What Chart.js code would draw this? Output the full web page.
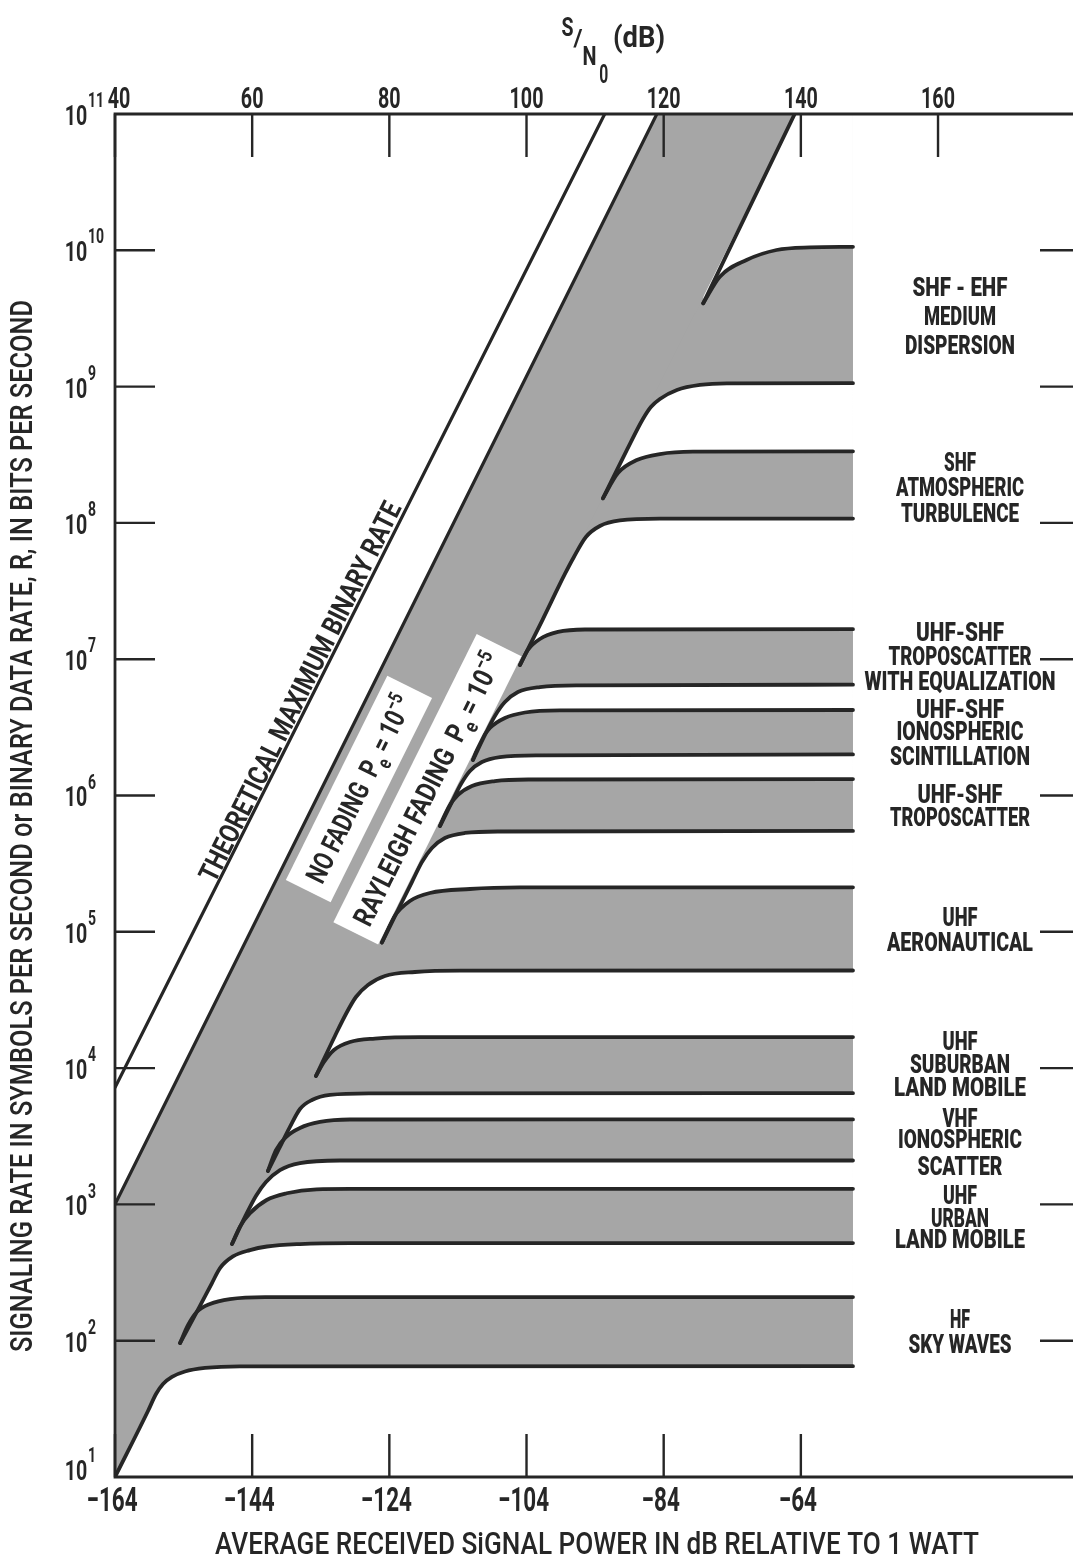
<!DOCTYPE html>
<html>
<head>
<meta charset="utf-8">
<title>Signaling rate versus received signal power</title>
<style>
  html, body { margin: 0; padding: 0; background: #fff; overflow: hidden; }
  canvas { display: block; }
</style>
<script src="https://cdn.jsdelivr.net/npm/chart.js@4.4.1/dist/chart.umd.min.js"></script>
</head>
<body>
<canvas id="chart" width="1090" height="1557"></canvas>
<script>
// ---- axes -------------------------------------------------------------
const powerTicks = [-164, -144, -124, -104, -84, -64];      // dB relative to 1 W
const snrTicks = [40, 60, 80, 100, 120, 140, 160];          // S/N0 in dB
const rateExponents = [1, 2, 3, 4, 5, 6, 7, 8, 9, 10, 11];  // decades of R
const snrOffset = 204;                                       // S/N0 = P + 204 dB

// ---- reference lines: [power dB, rate bit/s] ---------------------------
const theoreticalMax = [[-164, 7.2e3], [-92.6, 1e11]];
const noFading = [[-164, 1.0e3], [-85.0, 1e11]];
const rayleighFading = [[-164, 10], [-154.52, 96], [-64.9, 1e11]];
const rayleighUpper = [[-78.24, 4.08e9], [-64.9, 1e11]];

// ---- channel bands: lower and upper edges -----------------------------
const hfLower = [[-164, 10], [-159.19, 30.5], [-158.02, 40.6], [-157.0, 48.1], [-155.69, 54.2], [-153.8, 59.4], [-150.88, 63.1], [-145.78, 64.9], [-56.4, 65]];
const hfUpper = [[-154.52, 96], [-153.36, 130], [-152.05, 163], [-150.15, 186], [-147.24, 202], [-142.13, 209], [-56.4, 209]];

const urbanLower = [[-154.52, 96], [-151.61, 180], [-149.86, 265], [-148.69, 341], [-146.8, 415], [-144.32, 462], [-141.84, 491], [-137.03, 512], [-129.7, 520], [-56.4, 520]];
const urbanUpper = [[-146.94, 512], [-145.78, 687], [-144.32, 861], [-141.89, 1077], [-138.97, 1207], [-134.6, 1291], [-129.74, 1300], [-56.4, 1300]];

const vhfLower = [[-146.94, 512], [-145.05, 809], [-143.45, 1153], [-141.99, 1460], [-139.95, 1787], [-137.03, 2012], [-131.2, 2100], [-56.4, 2100]];
const vhfUpper = [[-141.7, 1758], [-140.53, 2506], [-139.07, 3121], [-137.03, 3637], [-134.12, 4027], [-129.74, 4198], [-56.4, 4200]];

const suburbanLower = [[-141.7, 1758], [-140.1, 2550], [-138.49, 3698], [-137.03, 5012], [-135.28, 5834], [-132.66, 6350], [-126.83, 6515], [-56.4, 6550]];
const suburbanUpper = [[-134.7, 8750], [-133.53, 11090], [-132.08, 13580], [-129.74, 15550], [-126.1, 16480], [-119.54, 16900], [-56.4, 16900]];

const aeroLower = [[-134.7, 8750], [-131.93, 17210], [-130.33, 24950], [-128.87, 33240], [-127.12, 40740], [-124.64, 47420], [-120.27, 50720], [-113.71, 51980], [-56.4, 52000]];
const aeroUpper = [[-125.08, 83540], [-123.33, 128500], [-121.0, 168300], [-118.08, 192600], [-112.25, 206100], [-104.96, 211500], [-56.4, 212000]];

const tropoLower = [[-125.08, 83540], [-122.45, 154600], [-120.71, 231800], [-119.25, 325100], [-117.79, 412100], [-115.9, 487600], [-112.98, 530900], [-107.88, 544500], [-56.4, 550000]];
const tropoUpper = [[-116.62, 597000], [-115.46, 809000], [-113.99, 1.009e6], [-111.96, 1.175e6], [-108.61, 1.277e6], [-103.5, 1.31e6], [-56.4, 1.32e6]];

const ionoLower = [[-116.62, 597000], [-114.87, 896000], [-113.56, 1.213e6], [-112.25, 1.514e6], [-110.5, 1.762e6], [-107.88, 1.915e6], [-102.05, 1.972e6], [-56.4, 2.0e6]];
const ionoUpper = [[-111.81, 1.82e6], [-110.79, 2.47e6], [-109.34, 3.126e6], [-107.15, 3.704e6], [-104.23, 4.064e6], [-99.13, 4.21e6], [-56.4, 4.24e6]];

const equalizedLower = [[-111.81, 1.82e6], [-110.06, 2.78e6], [-108.61, 3.83e6], [-107.15, 4.85e6], [-105.25, 5.74e6], [-102.05, 6.25e6], [-96.22, 6.43e6], [-56.4, 6.5e6]];
const equalizedUpper = [[-104.96, 9.06e6], [-103.8, 1.169e7], [-102.05, 1.407e7], [-99.42, 1.585e7], [-95.49, 1.652e7], [-56.4, 1.66e7]];

const atmosLower = [[-104.96, 9.06e6], [-101.7, 1.93e7], [-98.4, 4.22e7], [-97.09, 5.62e7], [-95.34, 7.88e7], [-93.3, 9.49e7], [-90.39, 1.042e8], [-84.55, 1.074e8], [-56.4, 1.075e8]];
const atmosUpper = [[-92.86, 1.514e8], [-90.67, 2.32e8], [-87.91, 2.89e8], [-84.55, 3.2e8], [-79.74, 3.33e8], [-56.4, 3.35e8]];

const dispersionLower = [[-92.86, 1.514e8], [-89.36, 3.43e8], [-87.03, 5.78e8], [-85.87, 7.08e8], [-84.55, 8.11e8], [-82.07, 9.44e8], [-78.72, 1.028e9], [-74.79, 1.057e9], [-56.4, 1.06e9]];
const dispersionUpper = [[-78.24, 4.08e9], [-75.81, 6.4e9], [-71.92, 8.49e9], [-67.54, 1.005e10], [-62.69, 1.05e10], [-56.4, 1.06e10]];

// ---- band labels (right-hand column) ----------------------------------
const bandLabels = [
  ['SHF - EHF', 'MEDIUM', 'DISPERSION'],
  ['SHF', 'ATMOSPHERIC', 'TURBULENCE'],
  ['UHF-SHF', 'TROPOSCATTER', 'WITH EQUALIZATION'],
  ['UHF-SHF', 'IONOSPHERIC', 'SCINTILLATION'],
  ['UHF-SHF', 'TROPOSCATTER'],
  ['UHF', 'AERONAUTICAL'],
  ['UHF', 'SUBURBAN', 'LAND MOBILE'],
  ['VHF', 'IONOSPHERIC', 'SCATTER'],
  ['UHF', 'URBAN', 'LAND MOBILE'],
  ['HF', 'SKY WAVES']
];

const bands = [
  {lower: hfLower, upper: hfUpper},
  {lower: urbanLower, upper: urbanUpper},
  {lower: vhfLower, upper: vhfUpper},
  {lower: suburbanLower, upper: suburbanUpper},
  {lower: aeroLower, upper: aeroUpper},
  {lower: tropoLower, upper: tropoUpper},
  {lower: ionoLower, upper: ionoUpper},
  {lower: equalizedLower, upper: equalizedUpper},
  {lower: atmosLower, upper: atmosUpper},
  {lower: dispersionLower, upper: dispersionUpper}
];

// ---- styling / layout -------------------------------------------------
const INK = '#262626';
const SHADE = '#a6a6a6';
const PAPER = '#ffffff';
const FONT = 'Roboto, "Liberation Sans", "DejaVu Sans", sans-serif';

// right-hand label lines: [centre y px, line width px]
const labelLayout = [
  [[286.7, 95], [315.8, 72], [345, 110]],
  [[462.5, 32], [487.5, 128], [512.8, 118]],
  [[632.3, 88], [655.8, 143], [680.8, 191]],
  [[709, 88], [730.8, 127], [755.8, 140]],
  [[794, 85], [817.3, 140]],
  [[917.3, 35], [942.3, 146]],
  [[1041.5, 35], [1064, 100], [1087.3, 132]],
  [[1118.3, 35], [1139, 124], [1165.8, 85]],
  [[1195, 34], [1218.3, 58], [1239, 130]],
  [[1319, 20], [1344, 103]]
];

// ---- datasets -----------------------------------------------------------
const xy = arr => arr.map(([x, y]) => ({x, y}));
const datasets = [];
function addCurve(data, extra) {
  datasets.push(Object.assign({
    data: xy(data), xAxisID: 'x', yAxisID: 'y',
    borderColor: INK, borderWidth: 3.8, pointRadius: 0, pointHoverRadius: 0,
    cubicInterpolationMode: 'monotone', fill: false, order: 0,
    borderCapStyle: 'round', borderJoinStyle: 'round'
  }, extra || {}));
  return datasets.length - 1;
}

// upper edges; the top band also clears the area above it
const upperIndex = bands.map((b, i) =>
  addCurve(b.upper, i === bands.length - 1 ? {fill: 'end', backgroundColor: PAPER, order: 4} : {}));

// lower edges: the first one lays the shading, the rest clear the gaps between bands
bands.forEach((b, i) => {
  if (i === 0) addCurve(b.lower, {fill: 'end', backgroundColor: SHADE, order: 5});
  else addCurve(b.lower, {fill: upperIndex[i - 1], backgroundColor: PAPER, order: 2});
});

// strip between the no-fading and Rayleigh-fading lines (above the HF band)
addCurve(rayleighFading.slice(1), {fill: 'end', backgroundColor: SHADE, borderColor: 'rgba(0,0,0,0)', order: 3});
addCurve(rayleighUpper);
// no-fading line: white region above it
addCurve(noFading, {fill: 'end', backgroundColor: PAPER, order: 1, borderWidth: 3.2});
addCurve(theoreticalMax, {borderWidth: 3.2});

// ---- text helpers -------------------------------------------------------
function putText(ctx, text, x, y, o) {
  const px = o.px || 24;
  ctx.save();
  ctx.translate(x, y);
  if (o.rot) ctx.rotate(o.rot);
  ctx.font = `${o.w || 700} ${px}px ${FONT}`;
  const w = ctx.measureText(text).width;
  const sx = o.width ? o.width / w : (o.sx || 0.7);
  ctx.scale(sx, 1);
  ctx.fillStyle = INK;
  ctx.textAlign = o.align || 'center';
  ctx.textBaseline = 'alphabetic';
  ctx.fillText(text, 0, px * 0.355);
  ctx.restore();
}

// runs: [text, size px, baseline shift px]
function putRuns(ctx, runs, x, y, o) {
  ctx.save();
  ctx.translate(x, y);
  if (o.rot) ctx.rotate(o.rot);
  const widths = runs.map(([t, px]) => { ctx.font = `${o.w || 700} ${px}px ${FONT}`; return ctx.measureText(t).width; });
  const total = widths.reduce((s, v) => s + v, 0);
  const sx = o.width ? o.width / total : (o.sx || 0.7);
  ctx.scale(sx, 1);
  ctx.fillStyle = INK;
  ctx.textAlign = 'left';
  ctx.textBaseline = 'alphabetic';
  let cx = -total / 2;
  runs.forEach(([t, px, dy], i) => {
    ctx.font = `${o.w || 700} ${px}px ${FONT}`;
    ctx.fillText(t, cx, o.px * 0.355 + (dy || 0));
    cx += widths[i];
  });
  ctx.restore();
}

// sloped captions along the fading lines: anchor in data units
const slopeCaptions = [
  {runs: [['THEORETICAL MAXIMUM BINARY RATE', 28, 0]], at: [-137.08, 5.82e6], len: 420},
  {runs: [['NO FADING  P', 28, 0], ['e', 20, 8], [' = 10', 28, 0], ['−5', 20, -11]], at: [-128.43, 1.117e6], len: 205, box: [228, 50]},
  {runs: [['RAYLEIGH FADING  P', 28, 0], ['e', 20, 8], [' = 10', 28, 0], ['−5', 20, -11]], at: [-118.45, 1.112e6], len: 300, box: [322, 50]}
];

const decor = {
  id: 'decor',
  afterDatasetsDraw(chart) {
    const {ctx, chartArea: a, scales} = chart;
    const X = scales.x, T = scales.xTop, Y = scales.y;

    // slope of the fading lines in screen space
    const ax = X.getPixelForValue(noFading[0][0]), ay = Y.getPixelForValue(noFading[0][1]);
    const bx = X.getPixelForValue(noFading[1][0]), by = Y.getPixelForValue(noFading[1][1]);
    const ang = Math.atan2(by - ay, bx - ax);

    slopeCaptions.forEach(c => {
      const cx = X.getPixelForValue(c.at[0]), cy = Y.getPixelForValue(c.at[1]);
      if (c.box) {
        ctx.save();
        ctx.translate(cx, cy);
        ctx.rotate(ang);
        ctx.fillStyle = PAPER;
        ctx.fillRect(-c.box[0] / 2, -c.box[1] / 2, c.box[0], c.box[1]);
        ctx.restore();
      }
      putRuns(ctx, c.runs, cx, cy, {rot: ang, width: c.len, px: 28});
    });

    // frame
    ctx.save();
    ctx.strokeStyle = INK;
    ctx.lineWidth = 2.8;
    ctx.lineCap = 'square';
    ctx.beginPath();
    ctx.moveTo(a.right, a.top); ctx.lineTo(a.left, a.top); ctx.lineTo(a.left, a.bottom); ctx.lineTo(a.right, a.bottom);
    ctx.lineTo(a.right, a.top);
    ctx.stroke();

    // tick marks (inward)
    ctx.lineWidth = 2.4;
    ctx.lineCap = 'butt';
    ctx.beginPath();
    powerTicks.forEach(v => { const p = X.getPixelForValue(v); ctx.moveTo(p, a.bottom); ctx.lineTo(p, a.bottom - 43); });
    snrTicks.forEach(v => { const p = T.getPixelForValue(v); ctx.moveTo(p, a.top); ctx.lineTo(p, a.top + 43); });
    rateExponents.slice(1, -1).forEach(e => {
      const p = Y.getPixelForValue(Math.pow(10, e));
      ctx.moveTo(a.left, p); ctx.lineTo(a.left + 40, p);
      ctx.moveTo(a.right, p); ctx.lineTo(a.right - 40, p);
    });
    ctx.stroke();
    ctx.restore();

    // tick labels
    powerTicks.forEach(v => putText(ctx, '−' + Math.abs(v), X.getPixelForValue(v) - 3, 1498.5, {px: 34, sx: 0.66}));
    snrTicks.forEach((v, i) => putText(ctx, String(v), T.getPixelForValue(v) + (i === 0 ? 4 : 0), 98, {px: 29, sx: 0.68}));
    rateExponents.forEach(e => {
      let p = Y.getPixelForValue(Math.pow(10, e));
      if (e === 1) p -= 8;
      putText(ctx, '10', 76, p + 1, {px: 28, sx: 0.7});
      putText(ctx, String(e), 88, p - 14, {px: 20, sx: 0.7, align: 'left'});
    });

    // axis titles
    putText(ctx, 'AVERAGE RECEIVED SiGNAL POWER IN dB RELATIVE TO 1 WATT', 597, 1543, {px: 32, width: 764, w: 500});
    putText(ctx, 'SIGNALING RATE IN SYMBOLS PER SECOND or BINARY DATA RATE, R, IN BITS PER SECOND',
      21, 826, {px: 31, width: 1052, rot: -Math.PI / 2, w: 500});
    putText(ctx, 'S', 567.5, 27, {px: 25, width: 12});
    putText(ctx, '/', 578, 37, {px: 24, width: 9});
    putText(ctx, 'N', 589.5, 56.5, {px: 25, width: 14});
    putText(ctx, '0', 603.8, 74, {px: 25, width: 9});
    putText(ctx, '(dB)', 639, 37, {px: 29, width: 52});

    // band names
    bandLabels.forEach((lines, i) => {
      lines.forEach((t, j) => {
        const [cy, w] = labelLayout[i][j];
        putText(ctx, t, 960, cy, {px: 25, w: 900, width: w});
      });
    });
  }
};

new Chart(document.getElementById('chart'), {
  type: 'line',
  data: {datasets},
  options: {
    responsive: false,
    animation: false,
    devicePixelRatio: 1,
    events: [],
    layout: {padding: {left: 115, top: 114, right: 10, bottom: 80}},
    plugins: {
      legend: {display: false},
      tooltip: {enabled: false},
      filler: {drawTime: 'beforeDatasetsDraw', propagate: false}
    },
    scales: {
      x: {type: 'linear', min: -164, max: -23.3, display: false},
      xTop: {type: 'linear', position: 'top', axis: 'x', min: -164 + snrOffset, max: -23.3 + snrOffset, display: false},
      y: {type: 'logarithmic', min: 10, max: 1e11, display: false}
    }
  },
  plugins: [decor]
});
</script>
</body>
</html>
